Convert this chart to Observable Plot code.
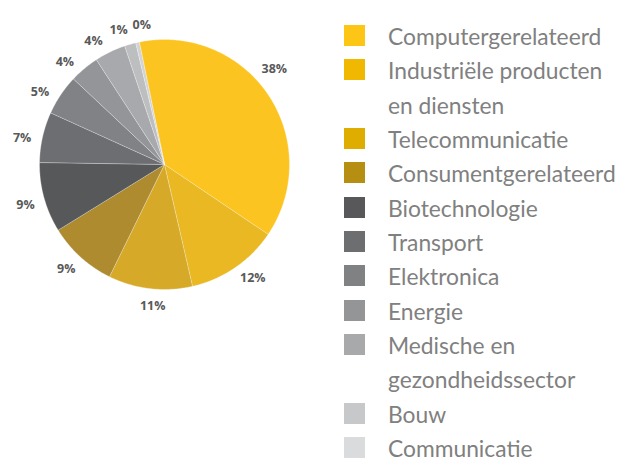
<!DOCTYPE html>
<html><head><meta charset="utf-8">
<script src="https://cdn.jsdelivr.net/npm/d3@7"></script>
<script src="https://cdn.jsdelivr.net/npm/@observablehq/plot@0.6"></script>
<style>
body{margin:0;background:#fff;}
#wrap{position:relative;width:619px;height:461px;overflow:hidden;}
#chart{position:absolute;left:0;top:0;}
#legend{position:absolute;left:344px;top:19px;font-family:Lato,sans-serif;font-size:22.8px;color:#808080;}
.row{display:flex;line-height:34.33px;white-space:pre-line;}
.sw{width:21px;height:21px;margin-top:6px;margin-right:23px;flex:none;}
</style></head><body>
<div id="wrap"><div id="chart"></div><div id="legend"></div></div>
<script>
const categories = ["Computergerelateerd", "Industriële producten\nen diensten", "Telecommunicatie", "Consumentgerelateerd", "Biotechnologie", "Transport", "Elektronica", "Energie", "Medische en\ngezondheidssector", "Bouw", "Communicatie"];
const values = [37.5, 11.9, 10.8, 8.9, 9.0, 6.5, 5.2, 3.8, 4.0, 1.45, 0.45];
const labels = ["38%", "12%", "11%", "9%", "9%", "7%", "5%", "4%", "4%", "1%", "0%"];
const sliceColors = ["#FCC421", "#E9B822", "#D6AA28", "#AD8B2E", "#57585A", "#6D6E71", "#808285", "#939598", "#A7A9AC", "#BCBEC0", "#D1D3D4"];
const legendColors = ["#FDC516", "#F0B800", "#DFAD00", "#B68E12", "#58585A", "#6D6E70", "#808183", "#939597", "#A7A9AB", "#C7C8CA", "#DADBDD"];
// layout only: angular nudges (degrees) applied to data labels, like Excel's best-fit placement
const labelShift = [-8.5, -2, -2, 0.5, -1, -2, -3, -3.5, -3.5, -2.5, 3.5];

const R = 125;            // pie radius in px
const startDeg = -11.7;
const total = d3.sum(values);
const rad = d => d * Math.PI / 180;
const slices = [];
let acc = startDeg;
values.forEach((v, i) => {
  const a0 = acc, a1 = acc + v / total * 360;
  acc = a1;
  slices.push({cat: categories[i], value: v, label: labels[i], a0, a1, mid: (a0 + a1) / 2 + labelShift[i]});
});
const polys = [];
slices.forEach(s => {
  polys.push({cat: s.cat, x: 0, y: 0});
  const n = Math.max(2, Math.ceil((s.a1 - s.a0) / 0.5));
  for (let k = 0; k <= n; k++) {
    const a = rad(s.a0 + (s.a1 - s.a0) * k / n);
    polys.push({cat: s.cat, x: Math.sin(a), y: Math.cos(a)});
  }
});
// label: box placed just outside the pie along the (nudged) mid angle
const anchorR = 136 / R;
slices.forEach(s => {
  const a = rad(s.mid);
  const w = 7.3 * (s.label.length - 1) + 10.5, h = 11.5;
  s.lx = anchorR * Math.sin(a) + (w / 2) * Math.sin(a) / R;
  s.ly = anchorR * Math.cos(a) + (h / 2) * Math.cos(a) / R;
});

const plot = Plot.plot({
  width: 330, height: 330,
  margin: 0,
  x: {domain: [-1, 1], range: [164 - R, 164 + R], axis: null},
  y: {domain: [-1, 1], range: [164 + R, 164 - R], axis: null},
  color: {domain: categories, range: sliceColors},
  style: {background: "transparent"},
  marks: [
    Plot.line(polys, {x: "x", y: "y", z: "cat", fill: "cat", stroke: "#ffffff", strokeWidth: 0.6, strokeOpacity: 0.5, curve: "linear-closed"}),
    Plot.text(slices, {
      x: "lx", y: "ly",
      text: "label", fill: "#595959", fontSize: 12.5, fontWeight: "bold",
      fontFamily: "'Open Sans', sans-serif", textAnchor: "middle", lineAnchor: "middle"
    })
  ]
});
document.getElementById("chart").appendChild(plot);

const legend = document.getElementById("legend");
categories.forEach((c, i) => {
  const row = document.createElement("div");
  row.className = "row";
  const sw = document.createElement("div");
  sw.className = "sw";
  sw.style.background = legendColors[i];
  const t = document.createElement("div");
  t.textContent = c;
  row.appendChild(sw); row.appendChild(t);
  legend.appendChild(row);
});
</script>
</body></html>
